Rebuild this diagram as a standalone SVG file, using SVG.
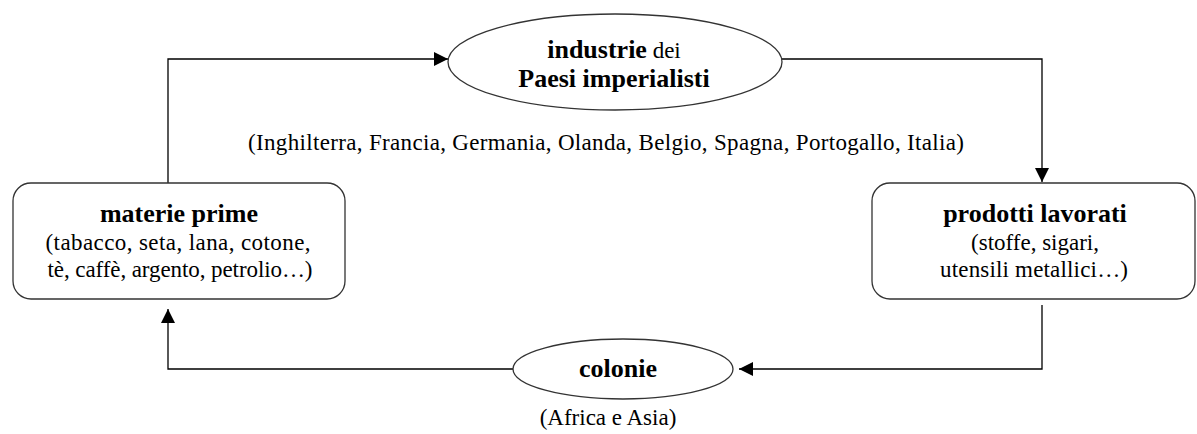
<svg xmlns="http://www.w3.org/2000/svg" width="1197" height="434" viewBox="0 0 1197 434">
<style>
text{font-family:"Liberation Serif","Times New Roman",serif;fill:#000;text-anchor:middle}
.t{font-size:23px}
.b{font-weight:bold;font-size:26px}
.node{fill:#fff;stroke:#333;stroke-width:1.3}
.conn{fill:none;stroke:#000;stroke-width:1.3;marker-end:url(#ah)}
</style>
<defs>
<marker id="ah" viewBox="0 0 10 10" refX="10" refY="5" markerWidth="14" markerHeight="14" markerUnits="userSpaceOnUse" orient="auto">
<path d="M0,0 L10,5 L0,10 z" fill="#000"/>
</marker>
</defs>
<rect width="1197" height="434" fill="#fff"/>
<g id="connectors">
<path class="conn" d="M168,183 V59 H448"/>
<path class="conn" d="M782,59 H1042 V182"/>
<path class="conn" d="M1042,305 V369 H739"/>
<path class="conn" d="M513,369 H168 V309"/>
</g>
<g id="industrie">
<ellipse class="node" cx="615" cy="62" rx="167" ry="48"/>
<text x="614" y="58"><tspan class="b">industrie</tspan><tspan class="t"> dei</tspan></text>
<text class="b" x="614" y="87">Paesi imperialisti</text>
</g>
<g id="paesi-label">
<text class="t" x="606" y="150" textLength="716" lengthAdjust="spacing">(Inghilterra, Francia, Germania, Olanda, Belgio, Spagna, Portogallo, Italia)</text>
</g>
<g id="materie">
<rect class="node" x="13" y="183" width="332" height="116" rx="18"/>
<text class="b" x="179" y="222">materie prime</text>
<text class="t" x="178" y="250" textLength="265" lengthAdjust="spacing">(tabacco, seta, lana, cotone,</text>
<text class="t" x="180" y="277" textLength="265" lengthAdjust="spacing">tè, caffè, argento, petrolio…)</text>
</g>
<g id="prodotti">
<rect class="node" x="872" y="183" width="323" height="116" rx="18"/>
<text class="b" x="1035" y="222">prodotti lavorati</text>
<text class="t" x="1035" y="250">(stoffe, sigari,</text>
<text class="t" x="1034" y="277" textLength="188" lengthAdjust="spacing">utensili metallici…)</text>
</g>
<g id="colonie">
<ellipse class="node" cx="623" cy="369" rx="110" ry="30"/>
<text class="b" x="618" y="377">colonie</text>
<text class="t" x="608" y="425">(Africa e Asia)</text>
</g>
</svg>
